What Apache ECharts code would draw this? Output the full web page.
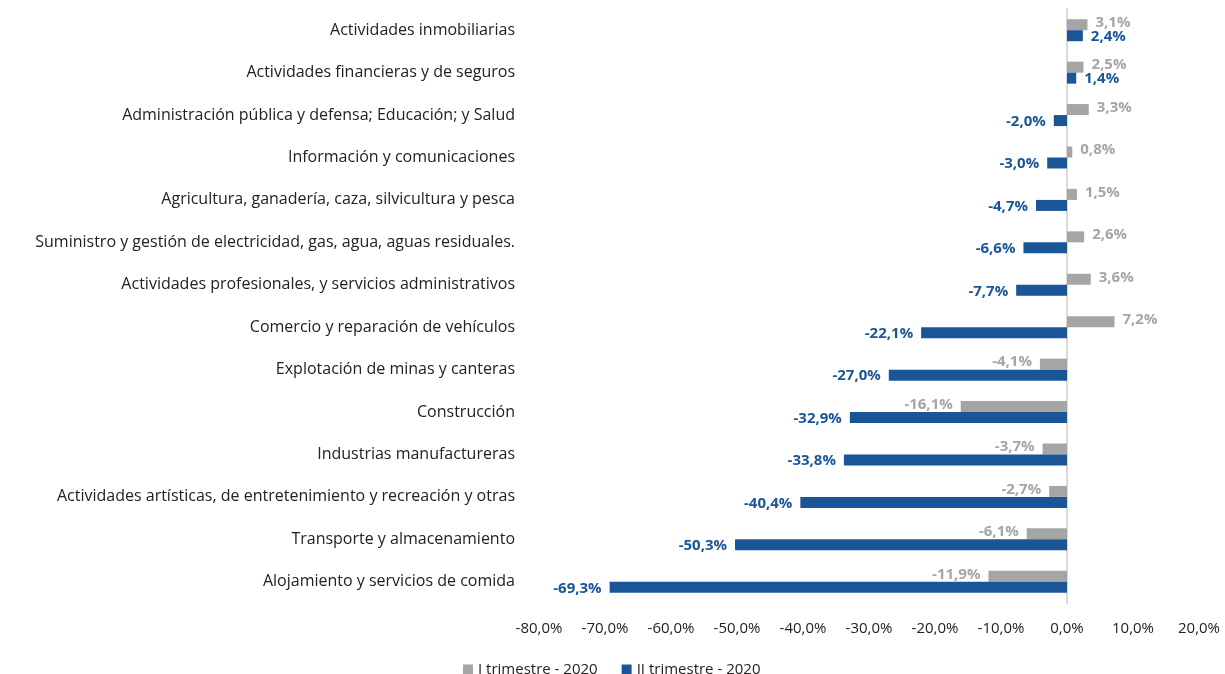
<!DOCTYPE html>
<html>
<head>
<meta charset="utf-8">
<script src="https://cdn.jsdelivr.net/npm/echarts@6/dist/echarts.min.js"></script>
<style>
  html, body { margin: 0; padding: 0; background: #fff; }
  #chart { width: 1225px; height: 674px; }
</style>
</head>
<body>
<div id="chart"></div>
<script>
// categories, top to bottom
var categories = [
  "Actividades inmobiliarias",
  "Actividades financieras y de seguros",
  "Administración pública y defensa; Educación; y Salud",
  "Información y comunicaciones",
  "Agricultura, ganadería, caza, silvicultura y pesca",
  "Suministro y gestión de electricidad, gas, agua, aguas residuales.",
  "Actividades profesionales, y servicios administrativos",
  "Comercio y reparación de vehículos",
  "Explotación de minas y canteras",
  "Construcción",
  "Industrias manufactureras",
  "Actividades artísticas, de entretenimiento y recreación y otras",
  "Transporte y almacenamiento",
  "Alojamiento y servicios de comida"
];
var trim1 = [3.1, 2.5, 3.3, 0.8, 1.5, 2.6, 3.6, 7.2, -4.1, -16.1, -3.7, -2.7, -6.1, -11.9];
var trim2 = [2.4, 1.4, -2.0, -3.0, -4.7, -6.6, -7.7, -22.1, -27.0, -32.9, -33.8, -40.4, -50.3, -69.3];
var seriesNames = ["I trimestre - 2020", "II trimestre - 2020"];

var GRAY = "#a5a5a5";
var BLUE = "#1a5597";
var FONT = "'Open Sans', sans-serif";

function pct(v) {
  return v.toFixed(1).replace(".", ",") + "%";
}

function withLabels(values, color, dy) {
  return values.map(function (v) {
    return {
      value: v,
      label: {
        show: true,
        position: v >= 0 ? "right" : "left",
        distance: 8,
        offset: [0, dy],
        color: color,
        fontWeight: "bold",
        fontSize: 15,
        fontFamily: FONT,
        formatter: function (p) { return pct(p.value); }
      }
    };
  });
}

var chart = echarts.init(document.getElementById("chart"));
chart.setOption({
  animation: false,
  grid: { left: 539, right: 26, top: 9, bottom: 71 },
  legend: {
    top: 657,
    left: 458,
    itemWidth: 10,
    itemHeight: 10,
    itemGap: 24,
    icon: "rect",
    textStyle: { fontFamily: FONT, fontSize: 15, color: "#222" },
    data: seriesNames
  },
  xAxis: {
    type: "value",
    min: -80,
    max: 20,
    interval: 10,
    splitLine: { show: false },
    axisLine: { show: false },
    axisTick: { show: false },
    axisLabel: {
      fontFamily: FONT,
      fontSize: 15,
      color: "#222",
      margin: 18,
      formatter: function (v) { return pct(v); }
    }
  },
  yAxis: {
    type: "category",
    data: categories,
    inverse: true,
    axisTick: { show: false },
    axisLine: { show: true, onZero: true, lineStyle: { color: "#d9d9d9", width: 2 } },
    axisLabel: {
      fontFamily: FONT,
      fontSize: 16,
      color: "#222",
      margin: 24
    }
  },
  series: [
    {
      name: seriesNames[0],
      type: "bar",
      data: withLabels(trim1, GRAY, -2),
      itemStyle: { color: GRAY },
      barWidth: 11,
      barGap: "0%"
    },
    {
      name: seriesNames[1],
      type: "bar",
      data: withLabels(trim2, BLUE, 1),
      itemStyle: { color: BLUE },
      barWidth: 11,
      barGap: "0%"
    }
  ]
});
</script>
</body>
</html>
